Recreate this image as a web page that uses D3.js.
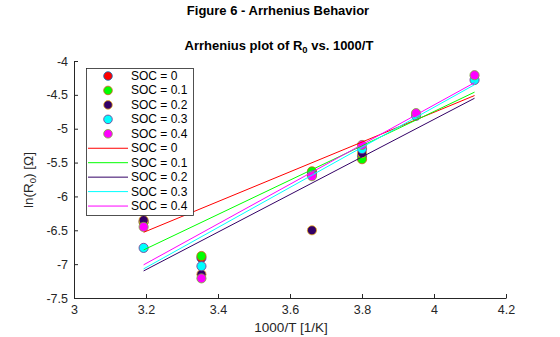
<!DOCTYPE html>
<html><head><meta charset="utf-8">
<script src="https://cdn.jsdelivr.net/npm/d3@7"></script>
<style>body{margin:0;background:#fff}svg{display:block}text{font-family:"Liberation Sans",Arial,sans-serif}</style>
</head><body><svg id="c" width="560" height="337"></svg>
<script>
// ---- data ----
const socLabels = ["SOC = 0","SOC = 0.1","SOC = 0.2","SOC = 0.3","SOC = 0.4"];
const fillColors = ["#ff0000","#00ff00","#330066","#00ffff","#ff00ff"];
const edgeColors = ["#0072bd","#d95319","#edb120","#7e2f8e","#77ac30"];
const invT = [3.1934, 3.3540, 3.6610, 3.8001, 3.9502, 4.1126];
// ln(R0) per SOC at each 1000/T (null = no point)
const soc0  = [-6.37, -6.91, -5.65, -5.40, null, null];
const soc01 = [-6.38, -6.88, -5.63, -5.45, null, null];
const soc02 = [-6.35, -7.15, -6.50, -5.36, null, null];
const soc03 = [-6.76, -7.03, -5.68, -5.30, -4.81, -4.28];
const soc04 = [-6.45, -7.21, -5.70, -5.24, -4.77, -4.21];
const seriesValues = [soc0, soc01, soc02, soc03, soc04];
// linear fit lines: value at first and last 1000/T
const fitX = [3.1934, 4.1126];
const fitStart = [-6.53, -6.79, -7.10, -7.07, -7.01];
const fitEnd   = [-4.51, -4.46, -4.55, -4.35, -4.32];
const xTicks = [3, 3.2, 3.4, 3.6, 3.8, 4, 4.2];
const yTicks = [-4, -4.5, -5, -5.5, -6, -6.5, -7, -7.5];

const svg = d3.select("#c");
const x = d3.scaleLinear().domain([3, 4.2]).range([74, 506]);
const y = d3.scaleLinear().domain([-7.5, -4]).range([298, 61]);
const axCol = "#262626";

// titles
svg.append("text").attr("x", 278).attr("y", 15).attr("text-anchor","middle")
  .attr("font-size", 13).attr("font-weight","bold").attr("fill","#000").text("Figure 6 - Arrhenius Behavior");
const st = svg.append("text").attr("x", 279).attr("y", 50).attr("text-anchor","middle")
  .attr("font-size", 13).attr("font-weight","bold").attr("fill","#000");
st.append("tspan").text("Arrhenius plot of R");
st.append("tspan").attr("font-size", 9.5).attr("dy", 3).text("0");
st.append("tspan").attr("dy", -3).text(" vs. 1000/T");

// axes
const fmt = d => String(d);
const xAxis = svg.append("g").attr("transform","translate(0,298)")
  .call(d3.axisBottom(x).tickValues(xTicks).tickSizeInner(-4).tickSizeOuter(0).tickPadding(8).tickFormat(fmt));
const yAxis = svg.append("g").attr("transform","translate(74,0)")
  .call(d3.axisLeft(y).tickValues(yTicks).tickSizeInner(-4).tickSizeOuter(0).tickPadding(6).tickFormat(fmt));
[xAxis, yAxis].forEach(a => {
  a.select(".domain").attr("stroke", axCol).attr("stroke-width", 1);
  a.selectAll(".tick line").attr("stroke", axCol);
  a.selectAll(".tick text").attr("fill", axCol).attr("font-size", 12.5)
    .attr("font-family", '"Liberation Sans",Arial,sans-serif');
});
xAxis.selectAll(".tick text").attr("dy", "0.6em");

// axis labels
svg.append("text").attr("x", 291).attr("y", 332).attr("text-anchor","middle")
  .attr("font-size", 13.5).attr("fill", axCol).text("1000/T [1/K]");
const yl = svg.append("text").attr("transform","translate(33,180) rotate(-90)").attr("text-anchor","middle")
  .attr("font-size", 13.5).attr("fill", axCol);
yl.append("tspan").text("ln(R");
yl.append("tspan").attr("font-size", 9.5).attr("dy", 3).text("0");
yl.append("tspan").attr("dy", -3).text(") [Ω]");

// markers
seriesValues.forEach((vals, i) => {
  const pts = invT.map((t, j) => ({t, v: vals[j]})).filter(d => d.v !== null);
  svg.append("g").selectAll("circle").data(pts).join("circle")
    .attr("cx", d => x(d.t)).attr("cy", d => y(d.v)).attr("r", 4.6)
    .attr("fill", fillColors[i]).attr("stroke", edgeColors[i]).attr("stroke-width", 0.8);
});

// fit lines
const line = d3.line().x(d => x(d[0])).y(d => y(d[1]));
fitStart.forEach((s, i) => {
  svg.append("path").attr("d", line([[fitX[0], s], [fitX[1], fitEnd[i]]]))
    .attr("fill","none").attr("stroke", fillColors[i]).attr("stroke-width", 1);
});

// legend
const lg = svg.append("g");
lg.append("rect").attr("x", 86.5).attr("y", 68.5).attr("width", 107).attr("height", 147)
  .attr("fill","#fff").attr("stroke", axCol).attr("stroke-width", 0.8);
const rowY = i => 76 + i * 14.45;
socLabels.forEach((lab, i) => {
  lg.append("circle").attr("cx", 108).attr("cy", rowY(i)).attr("r", 4.3)
    .attr("fill", fillColors[i]).attr("stroke", edgeColors[i]).attr("stroke-width", 0.8);
  lg.append("text").attr("x", 131).attr("y", rowY(i) + 4).attr("font-size", 12).attr("fill","#000").text(lab);
});
socLabels.forEach((lab, i) => {
  const yy = rowY(i + 5);
  lg.append("line").attr("x1", 88).attr("x2", 128).attr("y1", yy).attr("y2", yy)
    .attr("stroke", fillColors[i]).attr("stroke-width", 1);
  lg.append("text").attr("x", 131).attr("y", yy + 4).attr("font-size", 12).attr("fill","#000").text(lab);
});
</script></body></html>
